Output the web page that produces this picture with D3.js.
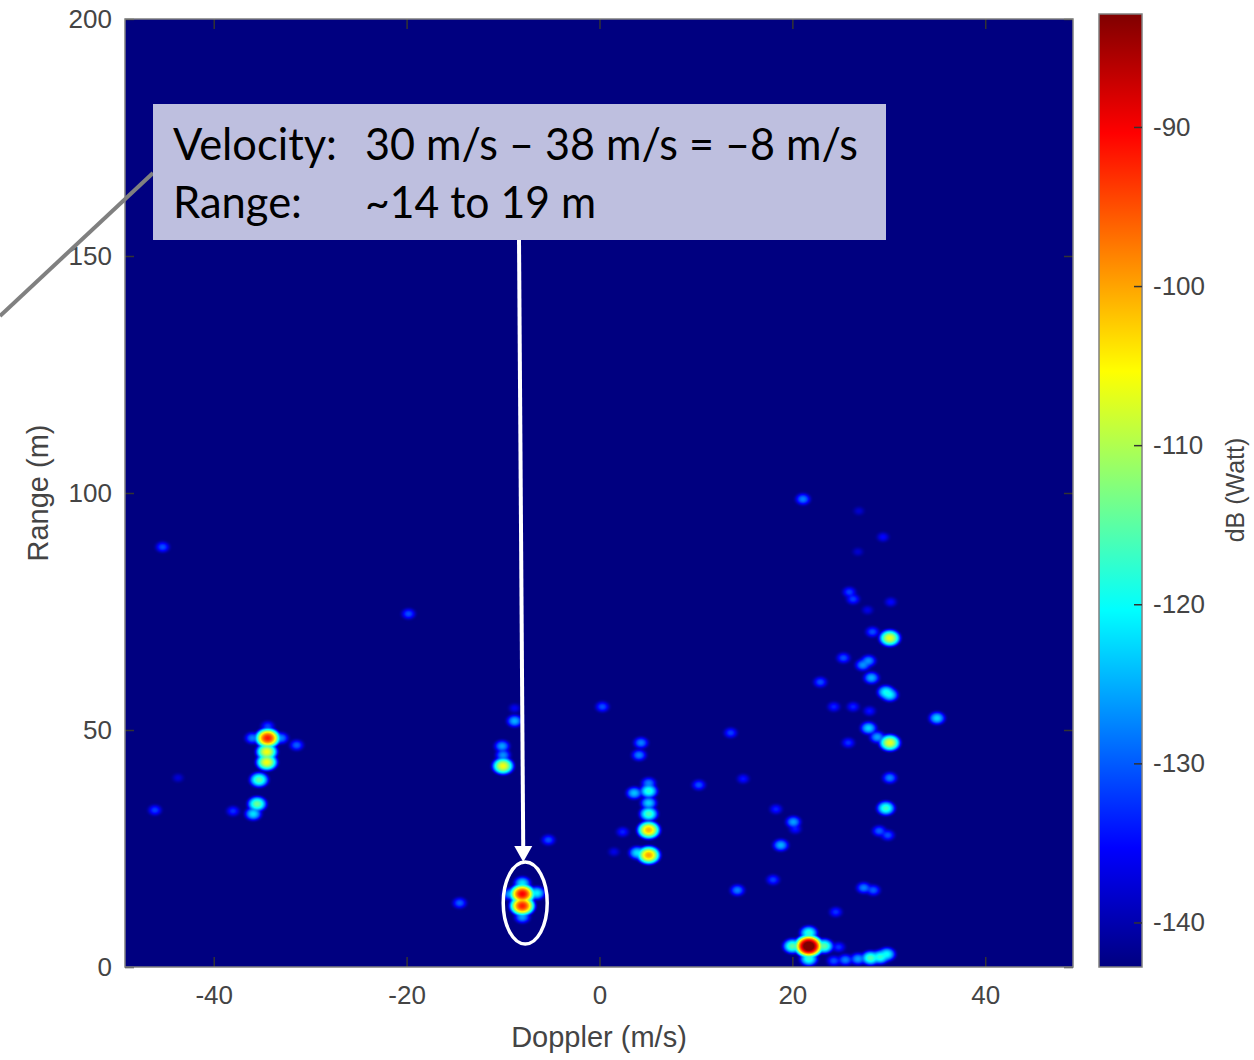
<!DOCTYPE html>
<html>
<head>
<meta charset="utf-8">
<script src="https://cdn.jsdelivr.net/npm/d3@7"></script>
<style>
  body { margin: 0; background: #fff; }
  text { font-family: "Liberation Sans", Arial, sans-serif; }
</style>
</head>
<body>
<svg id="chart" width="1254" height="1060"></svg>
<script>
// axis ticks
const dopplerTicks = [-40, -20, 0, 20, 40];
const rangeTicks = [0, 50, 100, 150, 200];
const dbTicks = [-140, -130, -120, -110, -100, -90];

// detections: doppler (m/s), range (m), peak power (dB)
const targetDoppler = [
  -34.4, -34.5, -34.5, -35.3, -35.5, -35.9, -38.0, -31.4, -34.4, -36.0, -33.0, -45.3, -46.1, -43.7, -19.8,
  -10.0, -10.1, -10.0, -8.8, -8.8, -14.5, -8.0, -8.0, -6.5, -9.3, -8.0, -8.0, -5.3,
  5.1, 3.9, 5.1, 5.1, 5.1, 5.1, 3.6, 5.1, 4.1, 4.3, 0.3, 2.4, 1.5,
  13.6, 10.3, 14.9, 14.3, 18.0, 18.8, 20.1, 18.3, 20.3,
  21.7, 20.0, 23.3, 21.7, 21.7, 24.8,
  24.3, 25.5, 26.8, 28.1, 29.1, 29.8, 24.5, 27.4, 28.4,
  30.1, 28.8, 27.9, 30.1, 29.7, 29.0, 29.9, 24.3, 26.3, 28.0, 25.8,
  21.1, 26.9, 29.4, 26.8, 25.9, 26.3, 30.2, 27.8, 28.3, 30.1, 25.3, 27.3, 27.9, 22.9, 28.2, 29.7, 30.1, 35.0
];
const targetRange = [
  48.3, 45.4, 43.2, 39.5, 34.4, 32.3, 32.9, 46.8, 50.8, 48.3, 48.3, 88.6, 33.1, 39.9, 74.5,
  42.4, 46.6, 44.7, 51.9, 54.6, 13.5, 15.4, 12.9, 15.6, 15.4, 17.7, 10.5, 26.8,
  23.6, 24.1, 28.9, 32.3, 34.6, 37.1, 36.7, 38.8, 44.7, 47.3, 54.9, 28.5, 24.3,
  49.4, 38.4, 39.7, 16.2, 18.4, 25.7, 30.6, 33.3, 29.1,
  4.4, 4.4, 4.4, 7.2, 1.7, 4.2,
  1.3, 1.5, 1.7, 1.9, 2.1, 2.7, 11.6, 16.7, 16.2,
  47.3, 48.5, 50.4, 39.9, 33.5, 28.7, 27.8, 54.9, 54.9, 54.0, 47.3,
  98.7, 96.2, 90.7, 87.6, 79.1, 77.6, 77.0, 75.3, 70.7, 69.4, 65.2, 63.7, 64.6, 60.1, 61.0, 58.0, 57.4, 52.5
];
const targetPower = [
  -92, -106, -106, -115, -114, -122, -133, -130, -132, -128, -128, -131, -132, -139, -131,
  -106, -126, -127, -125, -137, -130, -90, -92, -121, -126, -122, -126, -131,
  -100, -122, -101, -116, -123, -118, -124, -128, -128, -128, -131, -134, -138,
  -132, -131, -135, -128, -132, -125, -126, -134, -135,
  -77, -115, -115, -118, -118, -133,
  -131, -128, -126, -116, -118, -120, -133, -128, -130,
  -107, -126, -123, -128, -117, -130, -131, -134, -134, -135, -133,
  -128, -140, -136, -140, -132, -132, -136, -138, -131, -107, -131, -127, -127, -131, -125, -120, -121, -123
];

const noiseFloorDb = -143;
const dbMin = -142.8, dbMax = -82.9;

const svg = d3.select('#chart');
const plot = { left: 125, right: 1073, top: 19, bottom: 967 };
const bar = { left: 1099, right: 1142, top: 14, bottom: 967 };

let x = d3.scaleLinear().domain([-49.2, 49.1]).range([plot.left, plot.right]);
let y = d3.scaleLinear().domain([0, 200]).range([plot.bottom, plot.top]);
let cbar = d3.scaleLinear().domain([dbMin, dbMax]).range([bar.bottom, bar.top]);

// matlab jet
const jetStops = [0, 0.125, 0.375, 0.625, 0.875, 1];
const jetColors = ['#000080', '#0000ff', '#00ffff', '#ffff00', '#ff0000', '#800000'];
let color = d3.scaleLinear()
  .domain(jetStops.map((t) => dbMin + t * (dbMax - dbMin)))
  .range(jetColors)
  .clamp(true);

// heat map: sum of point responses in linear power, shown in dB
const W = plot.right - plot.left, H = plot.bottom - plot.top;
const sigmaV = 0.31, sigmaR = 0.5;
let power = new Float64Array(W * H).fill(Math.pow(10, noiseFloorDb / 10));

targetDoppler.forEach((v, k) => {
  const r = targetRange[k];
  const cx = x(v) - plot.left, cy = y(r) - plot.top;
  const sx = x(v + sigmaV) - x(v), sy = y(r) - y(r + sigmaR);
  const p0 = Math.pow(10, targetPower[k] / 10);
  const i0 = Math.max(0, Math.floor(cx - 6 * sx)), i1 = Math.min(W - 1, Math.ceil(cx + 6 * sx));
  const j0 = Math.max(0, Math.floor(cy - 6 * sy)), j1 = Math.min(H - 1, Math.ceil(cy + 6 * sy));
  for (let j = j0; j <= j1; j++) {
    const dy = (j + 0.5 - cy) / sy;
    for (let i = i0; i <= i1; i++) {
      const dx = (i + 0.5 - cx) / sx;
      power[j * W + i] += p0 * Math.exp(-0.5 * (dx * dx + dy * dy));
    }
  }
});

const lutSize = 1024;
let lut = d3.range(lutSize).map((n) => d3.rgb(color(dbMin + (n / (lutSize - 1)) * (dbMax - dbMin))));

let canvas = document.createElement('canvas');
canvas.width = W;
canvas.height = H;
let ctx = canvas.getContext('2d');
let img = ctx.createImageData(W, H);
for (let n = 0; n < W * H; n++) {
  const db = 10 * Math.log10(power[n]);
  let idx = Math.round(((db - dbMin) / (dbMax - dbMin)) * (lutSize - 1));
  idx = Math.max(0, Math.min(lutSize - 1, idx));
  const c = lut[idx];
  img.data[n * 4] = c.r;
  img.data[n * 4 + 1] = c.g;
  img.data[n * 4 + 2] = c.b;
  img.data[n * 4 + 3] = 255;
}
ctx.putImageData(img, 0, 0);

svg.append('image')
  .attr('x', plot.left)
  .attr('y', plot.top)
  .attr('width', W)
  .attr('height', H)
  .attr('href', canvas.toDataURL());

// axes, matlab style ticks pointing in, plain hyphen minus
const tickColor = '#444';
const plainFmt = (d) => String(d);
function styleAxis(g) {
  g.select('.domain').remove();
  g.selectAll('.tick line').attr('stroke', '#333').attr('stroke-width', 1.5);
  g.selectAll('.tick text').attr('fill', tickColor).style('font-size', '26px');
}

svg.append('g')
  .attr('transform', `translate(0,${plot.bottom})`)
  .call(d3.axisBottom(x).tickValues(dopplerTicks).tickFormat(plainFmt).tickSize(-10).tickPadding(19))
  .call(styleAxis);
svg.append('g')
  .attr('transform', `translate(0,${plot.top})`)
  .call(d3.axisTop(x).tickValues(dopplerTicks).tickSize(-10).tickFormat(''))
  .call(styleAxis);
svg.append('g')
  .attr('transform', `translate(${plot.left},0)`)
  .call(d3.axisLeft(y).tickValues(rangeTicks).tickFormat(plainFmt).tickSize(-9).tickPadding(13))
  .call(styleAxis);
svg.append('g')
  .attr('transform', `translate(${plot.right},0)`)
  .call(d3.axisRight(y).tickValues(rangeTicks).tickSize(-9).tickFormat(''))
  .call(styleAxis);

svg.append('rect')
  .attr('x', plot.left).attr('y', plot.top)
  .attr('width', W).attr('height', H)
  .attr('fill', 'none').attr('stroke', '#808080').attr('stroke-width', 1.5);

// colorbar
let grad = svg.append('defs').append('linearGradient')
  .attr('id', 'jet').attr('x1', 0).attr('y1', 1).attr('x2', 0).attr('y2', 0);
jetStops.forEach((t, i) => {
  grad.append('stop').attr('offset', t).attr('stop-color', jetColors[i]);
});
svg.append('rect')
  .attr('x', bar.left).attr('y', bar.top)
  .attr('width', bar.right - bar.left).attr('height', bar.bottom - bar.top)
  .attr('fill', 'url(#jet)').attr('stroke', '#808080').attr('stroke-width', 1.5);
svg.append('g')
  .attr('transform', `translate(${bar.right},0)`)
  .call(d3.axisRight(cbar).tickValues(dbTicks).tickFormat(plainFmt).tickSize(-8).tickPadding(11))
  .call(styleAxis);

// axis titles
svg.append('text')
  .attr('x', (plot.left + plot.right) / 2).attr('y', 1047)
  .attr('text-anchor', 'middle').attr('fill', tickColor)
  .style('font-size', '29px')
  .text('Doppler (m/s)');
svg.append('text')
  .attr('transform', `translate(48,${(plot.top + plot.bottom) / 2}) rotate(-90)`)
  .attr('text-anchor', 'middle').attr('fill', tickColor)
  .style('font-size', '29px')
  .text('Range (m)');
svg.append('text')
  .attr('transform', `translate(1244,490) rotate(-90)`)
  .attr('text-anchor', 'middle').attr('fill', tickColor)
  .style('font-size', '25px')
  .text('dB (Watt)');

// annotation
svg.append('line')
  .attr('x1', 153).attr('y1', 173).attr('x2', 0).attr('y2', 316)
  .attr('stroke', '#808080').attr('stroke-width', 4);

svg.append('rect')
  .attr('x', 153).attr('y', 104).attr('width', 733).attr('height', 136)
  .attr('fill', '#bebfdf');

const noteFont = 'Lato, "Open Sans", sans-serif';
[
  ['Velocity:', 173, 160, 164],
  ['30 m/s \u2013 38 m/s = \u20138 m/s', 365, 160, 493],
  ['Range:', 173, 218, 129],
  ['~14 to 19 m', 365, 218, 231],
].forEach(([t, tx, ty, len]) => {
  svg.append('text')
    .attr('x', tx).attr('y', ty)
    .attr('textLength', len).attr('lengthAdjust', 'spacingAndGlyphs')
    .attr('fill', '#000')
    .style('font-family', noteFont)
    .style('font-size', '44px')
    .text(t);
});

const circVel = -7.7, circRange = 13.5;
svg.append('line')
  .attr('x1', 519).attr('y1', 240)
  .attr('x2', x(circVel) - 2).attr('y2', 848)
  .attr('stroke', '#fff').attr('stroke-width', 4);
svg.append('path')
  .attr('d', `M${x(circVel) - 2 - 9},846 L${x(circVel) - 2 + 9},846 L${x(circVel) - 2},862 Z`)
  .attr('fill', '#fff');
svg.append('ellipse')
  .attr('cx', x(circVel)).attr('cy', y(circRange))
  .attr('rx', 22).attr('ry', 41)
  .attr('fill', 'none').attr('stroke', '#fff').attr('stroke-width', 3.5);
</script>
</body>
</html>
